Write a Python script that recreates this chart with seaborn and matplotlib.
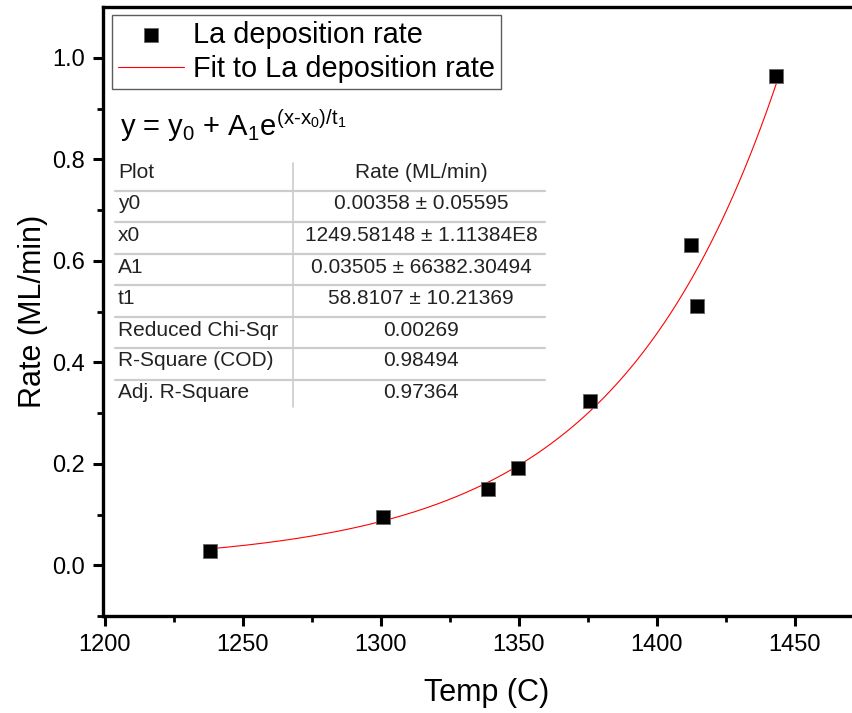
import numpy as np
import pandas as pd
import matplotlib
matplotlib.use("Agg")
import matplotlib.pyplot as plt
from matplotlib.lines import Line2D
import seaborn as sns

# Measured La deposition rate versus substrate temperature
temp = [1238.3, 1301.0, 1338.8, 1349.8, 1375.9, 1412.6, 1414.6, 1443.3]
rate = [0.029, 0.095, 0.151, 0.192, 0.324, 0.632, 0.511, 0.965]

# Exponential growth fit parameters: y = y0 + A1*exp((x - x0)/t1)
y0 = 0.00358
x0 = 1249.58148
A1 = 0.03505
t1 = 58.8107

param_names = ["y0", "x0", "A1", "t1", "Reduced Chi-Sqr", "R-Square (COD)", "Adj. R-Square"]
param_values = ["0.00358 \u00b1 0.05595", "1249.58148 \u00b1 1.11384E8",
                "0.03505 \u00b1 66382.30494", "58.8107 \u00b1 10.21369",
                "0.00269", "0.98494", "0.97364"]

sns.set_theme(style="ticks")
plt.rcParams["font.family"] = ["Liberation Sans", "DejaVu Sans"]
plt.rcParams["mathtext.fontset"] = "custom"
plt.rcParams["mathtext.rm"] = "Liberation Sans"
plt.rcParams["mathtext.it"] = "Liberation Sans"
plt.rcParams["mathtext.default"] = "regular"
plt.rcParams["text.color"] = "black"
plt.rcParams["axes.labelcolor"] = "black"

W, H = 852, 713
fig = plt.figure(figsize=(W / 100, H / 100), dpi=100)
ax = fig.add_axes([103 / W, (H - 616) / H, 767 / W, 609 / H])

df = pd.DataFrame({"Temp": temp, "Rate": rate})
x_fit = np.linspace(min(temp), max(temp), 300)
fit_df = pd.DataFrame({"Temp": x_fit, "Rate": y0 + A1 * np.exp((x_fit - x0) / t1)})

sns.lineplot(data=fit_df, x="Temp", y="Rate", ax=ax, color="red", lw=0.8,
             estimator=None, sort=True, label="Fit to La deposition rate", zorder=3)
sns.scatterplot(data=df, x="Temp", y="Rate", ax=ax, marker="s", s=95,
                color="black", edgecolor="#666666", linewidth=0.6,
                label="La deposition rate", zorder=4)

ax.set_xlim(1199.4, 1199.4 + 767 / 2.76)
ax.set_ylim(-0.1, 1.1)
ax.set_xticks([1200, 1250, 1300, 1350, 1400, 1450])
ax.set_yticks([0.0, 0.2, 0.4, 0.6, 0.8, 1.0])
ax.set_xticks(np.arange(1225, 1476, 50), minor=True)
ax.set_yticks(np.arange(-0.1, 1.01, 0.2), minor=True)
ax.set_yticklabels(["0.0", "0.2", "0.4", "0.6", "0.8", "1.0"])

for side in ["left", "bottom", "top", "right"]:
    ax.spines[side].set_visible(True)
    ax.spines[side].set_linewidth(2.4)
    ax.spines[side].set_color("black")

ax.tick_params(axis="both", which="major", direction="out", length=7, width=2.2,
               labelsize=17, pad=6, color="black", labelcolor="black")
ax.tick_params(axis="both", which="minor", direction="out", length=4, width=2.0,
               color="black")
ax.tick_params(top=False, right=False, which="both")

ax.set_xlabel("Temp (C)", fontsize=22, labelpad=16)
ax.set_ylabel("Rate (ML/min)", fontsize=22, labelpad=3)

# Legend: square marker first, fit line second
handles, labels = ax.get_legend_handles_labels()
order = [labels.index("La deposition rate"), labels.index("Fit to La deposition rate")]
leg = ax.legend([handles[i] for i in order], [labels[i] for i in order],
                loc="upper left", bbox_to_anchor=((112 - 103) / 767, 1 - (15 - 7) / 609),
                borderaxespad=0, fontsize=20.8, frameon=True, fancybox=False,
                edgecolor="#333333", handlelength=2.3, handletextpad=0.3,
                borderpad=0.2, labelspacing=0.22, markerscale=1.0)
leg.get_frame().set_linewidth(1.0)
for t in leg.get_texts():
    t.set_color("black")


def fx(px):
    return px / W


def fy(py):
    return 1 - py / H


# Fit equation
fig.text(fx(120), fy(126), "y = y$_0$ + A$_1$e$^{(x\u2010x_0)/t_1}$", fontsize=21,
         ha="left", va="center", color="black")

# Fit-result table
row_y = [173, 203, 235, 267, 298, 330, 361, 392]
sep_y = [191, 222, 254, 285, 317, 348, 380]
tcol = "#222222"
fs = 15
fig.text(fx(118), fy(row_y[0]), "Plot", fontsize=fs, ha="left", va="center", color=tcol)
fig.text(fx(421), fy(row_y[0]), "Rate (ML/min)", fontsize=fs, ha="center", va="center", color=tcol)
for yy, name, val in zip(row_y[1:], param_names, param_values):
    fig.text(fx(118), fy(yy), name, fontsize=fs, ha="left", va="center", color=tcol)
    fig.text(fx(421), fy(yy), val, fontsize=fs, ha="center", va="center", color=tcol)
for yy in sep_y:
    fig.add_artist(Line2D([fx(115), fx(545)], [fy(yy), fy(yy)], transform=fig.transFigure,
                          color="#cccccc", lw=1.6))
fig.add_artist(Line2D([fx(293), fx(293)], [fy(163), fy(407)], transform=fig.transFigure,
                      color="#cccccc", lw=1.2))

fig.savefig("out.png", dpi=100)
